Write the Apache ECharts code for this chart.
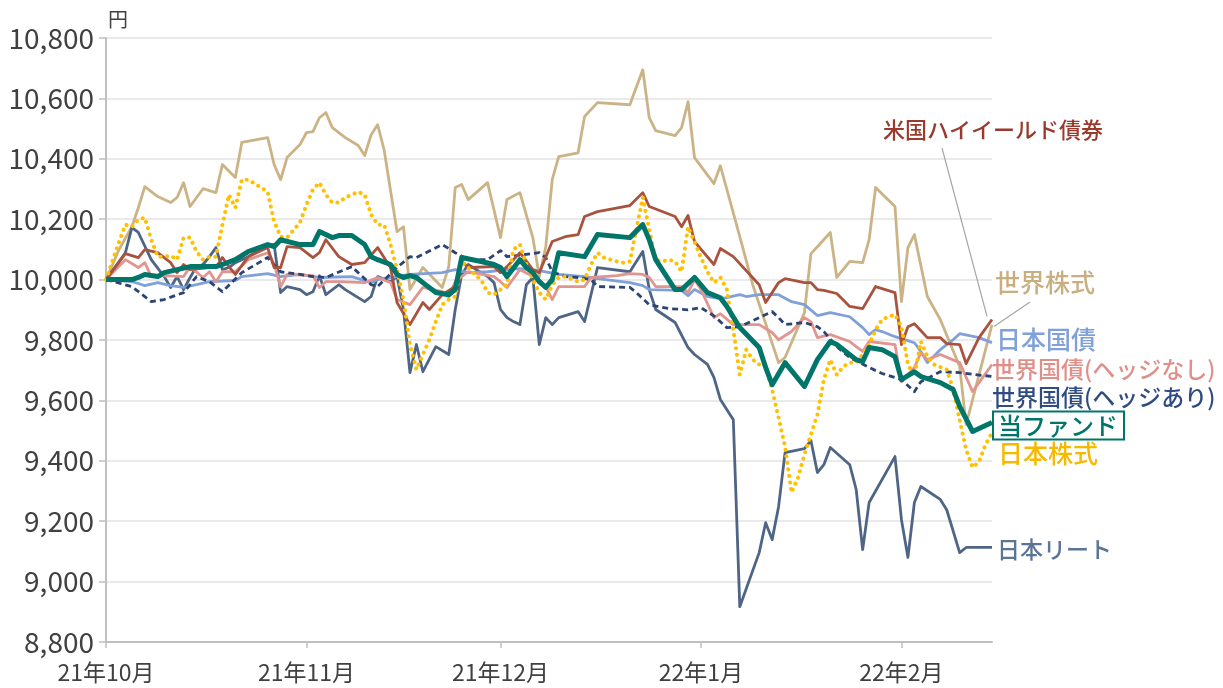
<!DOCTYPE html>
<html>
<head>
<meta charset="utf-8">
<script src="https://cdn.jsdelivr.net/npm/echarts@6/dist/echarts.min.js"></script>
<style>
  html, body { margin: 0; padding: 0; background: #fff; }
  #chart { width: 1223px; height: 688px; }
</style>
</head>
<body>
<div id="chart"></div>
<script>
// x: 21年10月1日からの経過日数, y: 基準価額(円)
const monthTicks = ['2021-10-01', '2021-11-01', '2021-12-01', '2022-01-01', '2022-02-01']
const lastDay = 137

const fund = [[0,10000],[4,10000],[5,10007],[6,10017],[8,10010],[9,10023],[11,10033],[13,10043],[17,10043],[18,10050],[20,10066],[22,10093],[25,10116],[26,10109],[27,10132],[30,10116],[32,10116],[33,10159],[35,10139],[36,10146],[38,10146],[40,10116],[41,10076],[42,10066],[44,10050],[45,10017],[46,10007],[47,10013],[48,10007],[49,9990],[51,9957],[53,9950],[54,9967],[55,10073],[58,10060],[60,10050],[61,10040],[62,10010],[64,10066],[65,10040],[66,10023],[67,9993],[68,9974],[69,10000],[70,10089],[74,10076],[76,10149],[81,10139],[83,10182],[84,10132],[85,10066],[88,9967],[89,9967],[91,10007],[93,9957],[95,9940],[96,9911],[98,9841],[101,9775],[102,9709],[103,9652],[105,9725],[108,9646],[110,9735],[112,9795],[113,9785],[116,9735],[117,9728],[118,9775],[120,9768],[122,9745],[123,9669],[124,9682],[125,9695],[126,9679],[129,9659],[131,9636],[132,9580],[134,9497],[137,9527]]

const usHighYield = [[0,10000],[3,10086],[5,10073],[6,10099],[8,10089],[10,10056],[11,10023],[12,10050],[13,10033],[16,10040],[17,10040],[18,10073],[19,10043],[20,10017],[22,10076],[25,10106],[26,10040],[27,10040],[28,10109],[30,10106],[32,10073],[33,10089],[34,10132],[36,10076],[38,10050],[40,10056],[42,10106],[44,10040],[45,9924],[47,9851],[49,9924],[50,9901],[52,9950],[54,9977],[55,10060],[56,10040],[60,10043],[61,10023],[62,10043],[64,10089],[66,10033],[67,10023],[69,10126],[71,10142],[73,10149],[74,10209],[76,10225],[81,10245],[83,10288],[84,10242],[88,10209],[89,10175],[90,10212],[91,10126],[94,10050],[95,10103],[97,10076],[101,9983],[102,9924],[104,9990],[105,10003],[108,9990],[109,9990],[110,9967],[111,9964],[113,9954],[115,9911],[117,9904],[119,9977],[122,9957],[123,9785],[124,9844],[125,9854],[127,9808],[129,9808],[130,9788],[132,9785],[133,9722],[135,9808],[137,9868]]

const worldStock = [[0,10000],[2,10099],[4,10175],[5,10238],[6,10308],[8,10275],[10,10255],[11,10272],[12,10321],[13,10242],[15,10301],[17,10288],[18,10381],[20,10338],[21,10454],[25,10470],[26,10381],[27,10331],[28,10404],[30,10447],[31,10487],[32,10490],[33,10536],[34,10553],[35,10503],[37,10470],[39,10444],[40,10411],[41,10480],[42,10513],[43,10430],[45,10159],[46,10175],[47,9967],[49,10040],[52,9974],[53,10043],[54,10305],[55,10315],[56,10265],[59,10321],[61,10139],[62,10265],[64,10288],[66,10139],[67,10010],[68,10109],[69,10331],[70,10407],[73,10420],[74,10540],[76,10586],[81,10579],[83,10695],[84,10536],[85,10493],[88,10477],[89,10503],[90,10589],[91,10404],[94,10318],[95,10377],[98,10142],[100,9983],[104,9725],[105,9742],[108,9891],[109,10086],[110,10109],[112,10156],[113,10007],[115,10060],[117,10056],[118,10132],[119,10305],[122,10242],[123,9927],[124,10106],[125,10149],[127,9944],[129,9868],[132,9712],[133,9520],[137,9851]]

const jpBond = [[0,10000],[4,9993],[5,9987],[6,9980],[8,9990],[10,9980],[12,9974],[14,9983],[16,9993],[20,9997],[21,10010],[25,10020],[27,10010],[30,10017],[33,10007],[38,10010],[41,9990],[42,10000],[47,10017],[52,10023],[54,10033],[56,10023],[59,10026],[62,10033],[64,10036],[67,10030],[70,10017],[74,10010],[76,10003],[81,9990],[83,9980],[84,9967],[89,9964],[90,9947],[91,9967],[93,9944],[95,9937],[96,9940],[98,9950],[99,9944],[101,9950],[104,9950],[106,9927],[108,9917],[110,9881],[112,9891],[115,9877],[117,9841],[118,9818],[119,9834],[120,9828],[122,9811],[125,9791],[126,9762],[127,9725],[129,9768],[131,9801],[132,9821],[135,9808],[137,9791]]

const worldBondUnhedged = [[0,10000],[3,10066],[5,10040],[6,10056],[7,10010],[9,10013],[12,10010],[13,10043],[15,10007],[16,10026],[17,9993],[18,10026],[20,10026],[22,10066],[25,10089],[26,10050],[27,9977],[28,10017],[32,10013],[33,9974],[34,9993],[36,9993],[40,9990],[42,10007],[44,9990],[45,9934],[47,9917],[49,9974],[52,9960],[53,9944],[54,9993],[56,10026],[60,10010],[61,9993],[62,9974],[64,10033],[67,10000],[68,9977],[69,9934],[70,9977],[74,9977],[75,10007],[79,10013],[81,10020],[83,10017],[84,10007],[85,9977],[89,9977],[90,9957],[91,10000],[92,9967],[94,9874],[95,9887],[97,9851],[101,9851],[103,9825],[104,9801],[106,9828],[108,9874],[109,9861],[110,9808],[112,9818],[115,9795],[116,9778],[117,9762],[118,9795],[122,9785],[123,9662],[125,9709],[126,9758],[127,9735],[129,9752],[132,9725],[134,9629],[137,9719]]

const worldBondHedged = [[0,10000],[4,9977],[7,9927],[9,9934],[12,9957],[14,10010],[16,9993],[18,9960],[21,10023],[25,10073],[27,10026],[30,10017],[32,10010],[34,10007],[38,10043],[41,9983],[42,9977],[45,10040],[47,10076],[48,10073],[52,10116],[54,10089],[56,10066],[59,10066],[61,10096],[62,10076],[67,10089],[68,10073],[69,10026],[71,10010],[73,10007],[75,10000],[76,9977],[81,9974],[82,9957],[84,9917],[87,9904],[90,9900],[92,9907],[94,9880],[96,9841],[98,9844],[100,9864],[103,9894],[104,9874],[105,9851],[108,9858],[110,9844],[111,9828],[113,9778],[115,9742],[118,9709],[120,9689],[123,9669],[125,9629],[126,9662],[129,9695],[132,9692],[137,9679]]

const jpStock = [[0,10000],[2,10123],[3,10182],[4,10175],[5,10199],[6,10205],[7,10132],[8,10076],[9,10076],[10,10079],[11,10066],[12,10139],[13,10139],[14,10093],[15,10066],[16,10076],[17,10076],[18,10182],[19,10281],[20,10238],[21,10331],[22,10331],[25,10291],[26,10192],[27,10142],[28,10139],[30,10189],[31,10248],[32,10298],[33,10321],[34,10281],[35,10255],[36,10255],[37,10272],[38,10281],[39,10291],[40,10281],[41,10215],[42,10182],[43,10182],[44,10116],[45,10033],[46,9934],[47,9785],[48,9702],[49,9752],[50,9801],[51,9861],[52,9917],[53,9934],[54,9944],[55,10060],[56,10040],[57,10017],[58,10000],[59,9957],[60,9950],[61,9967],[62,9983],[63,10099],[64,10116],[65,10050],[66,10000],[67,9957],[68,9934],[69,9983],[70,10007],[71,10010],[73,9993],[74,10000],[75,10050],[76,10089],[77,10073],[78,10066],[79,10060],[80,10056],[81,10060],[82,10166],[83,10272],[84,10166],[85,10066],[86,10060],[87,10066],[88,10060],[89,10026],[90,10175],[92,10073],[93,10026],[94,9990],[95,10007],[96,9967],[97,9834],[98,9685],[99,9768],[100,9735],[101,9719],[102,9712],[103,9636],[104,9543],[105,9447],[106,9295],[107,9344],[108,9421],[109,9487],[110,9553],[111,9669],[112,9735],[113,9685],[114,9712],[115,9725],[116,9725],[117,9752],[118,9785],[119,9834],[120,9868],[121,9877],[122,9884],[123,9844],[124,9719],[125,9679],[126,9795],[127,9745],[128,9719],[130,9702],[131,9636],[132,9536],[133,9437],[134,9378],[135,9397],[136,9454],[137,9493]]

const jpReit = [[0,10000],[3,10089],[4,10172],[5,10156],[7,10066],[9,10010],[10,9974],[11,10010],[12,9967],[13,10007],[14,10043],[15,10050],[16,10076],[17,10106],[18,10033],[19,10040],[20,10056],[22,10076],[25,10116],[26,10116],[27,9957],[28,9977],[30,9967],[31,9950],[32,9960],[33,10013],[34,9950],[36,9983],[37,9967],[40,9927],[41,9944],[42,10010],[44,9993],[45,10010],[46,9901],[47,9692],[48,9785],[49,9695],[51,9778],[53,9752],[54,9901],[55,10017],[56,10050],[59,10010],[60,9990],[61,9901],[62,9874],[63,9861],[64,9851],[65,9983],[66,10007],[67,9785],[68,9874],[69,9851],[70,9874],[73,9894],[74,9861],[76,10040],[81,10026],[83,10093],[84,9967],[85,9901],[88,9858],[90,9775],[91,9752],[93,9719],[94,9676],[95,9603],[97,9536],[98,8917],[101,9096],[102,9195],[103,9139],[104,9248],[105,9427],[108,9440],[109,9467],[110,9361],[111,9387],[112,9444],[115,9387],[116,9305],[117,9106],[118,9262],[122,9414],[123,9205],[124,9080],[125,9262],[126,9315],[129,9272],[130,9238],[132,9096],[133,9113],[137,9113]]

const NUM_FONT = "'Liberation Sans Narrow', 'Noto Sans CJK JP', sans-serif"
const JP_FONT = "'Noto Sans CJK JP', sans-serif"
const DAY_MS = 86400000
const START = new Date(2021, 9, 1).getTime()

function parseDate (s) {
  const p = s.split('-').map(Number)
  return new Date(p[0], p[1] - 1, p[2]).getTime()
}
// 月初の経過日数（目盛り位置）
const tickDays = monthTicks.map(s => Math.round((parseDate(s) - START) / DAY_MS))

// 系列ごとの線と右端ラベル
function makeLine (name, data, color, width, opts) {
  opts = opts || {}
  return {
    name: name,
    type: 'line',
    data: data,
    symbol: 'none',
    silent: true,
    z: opts.z || 2,
    lineStyle: {
      color: color,
      width: width,
      type: opts.type || 'solid',
      cap: opts.cap || 'butt',
      join: 'round'
    },
    endLabel: Object.assign({
      show: true,
      formatter: opts.label || name,
      color: opts.labelColor || color,
      fontFamily: JP_FONT,
      fontWeight: 500,
      fontSize: opts.fontSize || 25,
      distance: 0,
      offset: opts.offset || [0, 0]
    }, opts.labelExtra || {})
  }
}

const chart = echarts.init(document.getElementById('chart'))

chart.setOption({
  animation: false,
  backgroundColor: '#fff',
  grid: { left: 106, right: 231, top: 38, bottom: 46, containLabel: false },
  xAxis: {
    type: 'value',
    min: 0,
    max: lastDay,
    axisLine: { lineStyle: { color: '#BFBFBF', width: 2 } },
    axisTick: { show: true, length: 6, customValues: tickDays, lineStyle: { color: '#BFBFBF', width: 1.5 } },
    axisLabel: {
      customValues: tickDays,
      margin: 19,
      color: '#404040',
      fontFamily: NUM_FONT,
      fontSize: 23,
      formatter: function (v) {
        const d = new Date(START + v * DAY_MS + DAY_MS / 2)
        return (d.getFullYear() % 100) + '年' + (d.getMonth() + 1) + '月'
      }
    },
    splitLine: { show: false }
  },
  yAxis: {
    type: 'value',
    min: 8800,
    max: 10800,
    interval: 200,
    name: '円',
    nameLocation: 'end',
    nameGap: 9,
    nameTextStyle: { color: '#404040', fontFamily: JP_FONT, fontSize: 20, align: 'left', padding: [0, 0, 0, 2] },
    axisLine: { show: true, lineStyle: { color: '#BFBFBF', width: 2 } },
    axisTick: { show: true, length: 7, lineStyle: { color: '#BFBFBF', width: 1.5 } },
    axisLabel: {
      margin: 12,
      color: '#404040',
      fontFamily: NUM_FONT,
      fontSize: 28,
      formatter: function (v) { return v.toLocaleString('en-US') }
    },
    splitLine: { lineStyle: { color: '#E3E3E3', width: 1.5 } }
  },
  series: [
    makeLine('世界株式', worldStock, '#CBB386', 2.8, { labelColor: '#C9AE7F', offset: [3, -42] }),
    makeLine('日本リート', jpReit, '#4E6586', 2.8, { labelColor: '#5D7595', fontSize: 23, offset: [5, 2] }),
    makeLine('日本国債', jpBond, '#7FA0D8', 2.8, { offset: [4, -3] }),
    makeLine('世界国債(ヘッジなし)', worldBondUnhedged, '#E2958F', 2.8, { labelColor: '#E08E88', fontSize: 23, offset: [0, 5] }),
    makeLine('世界国債(ヘッジあり)', worldBondHedged, '#2B4473', 2.8, { type: [6, 4], labelColor: '#2F4B80', fontSize: 23, offset: [0, 21] }),
    makeLine('米国ハイイールド債券', usHighYield, '#A9533E', 2.8, { labelColor: '#9A3A2C', fontSize: 22, offset: [-109, -190] }),
    makeLine('日本株式', jpStock, '#FFC000', 4, { type: [0.1, 6.5], cap: 'round', labelColor: '#F7B900', offset: [6, 21] }),
    makeLine('当ファンド', fund, '#00766B', 5, {
      z: 5,
      fontSize: 24,
      offset: [2, 3],
      labelExtra: {
        backgroundColor: '#fff',
        borderColor: '#00766B',
        borderWidth: 2,
        lineHeight: 25,
        padding: [1, 5, 0, 4]
      }
    })
  ]
})

// 引き出し線（ラベル → 最終値）
const hyEnd = chart.convertToPixel({ xAxisIndex: 0, yAxisIndex: 0 }, usHighYield[usHighYield.length - 1])
const wsEnd = chart.convertToPixel({ xAxisIndex: 0, yAxisIndex: 0 }, worldStock[worldStock.length - 1])

chart.setOption({
  graphic: [
    {
      type: 'line',
      silent: true,
      z: 10,
      shape: { x1: 942, y1: 148, x2: hyEnd[0] - 5, y2: hyEnd[1] - 3 },
      style: { stroke: '#A6A6A6', lineWidth: 1.2 }
    },
    {
      type: 'line',
      silent: true,
      z: 10,
      shape: { x1: 1030, y1: 302, x2: wsEnd[0] + 2, y2: wsEnd[1] + 2 },
      style: { stroke: '#A6A6A6', lineWidth: 1.2 }
    }
  ]
})
</script>
</body>
</html>
